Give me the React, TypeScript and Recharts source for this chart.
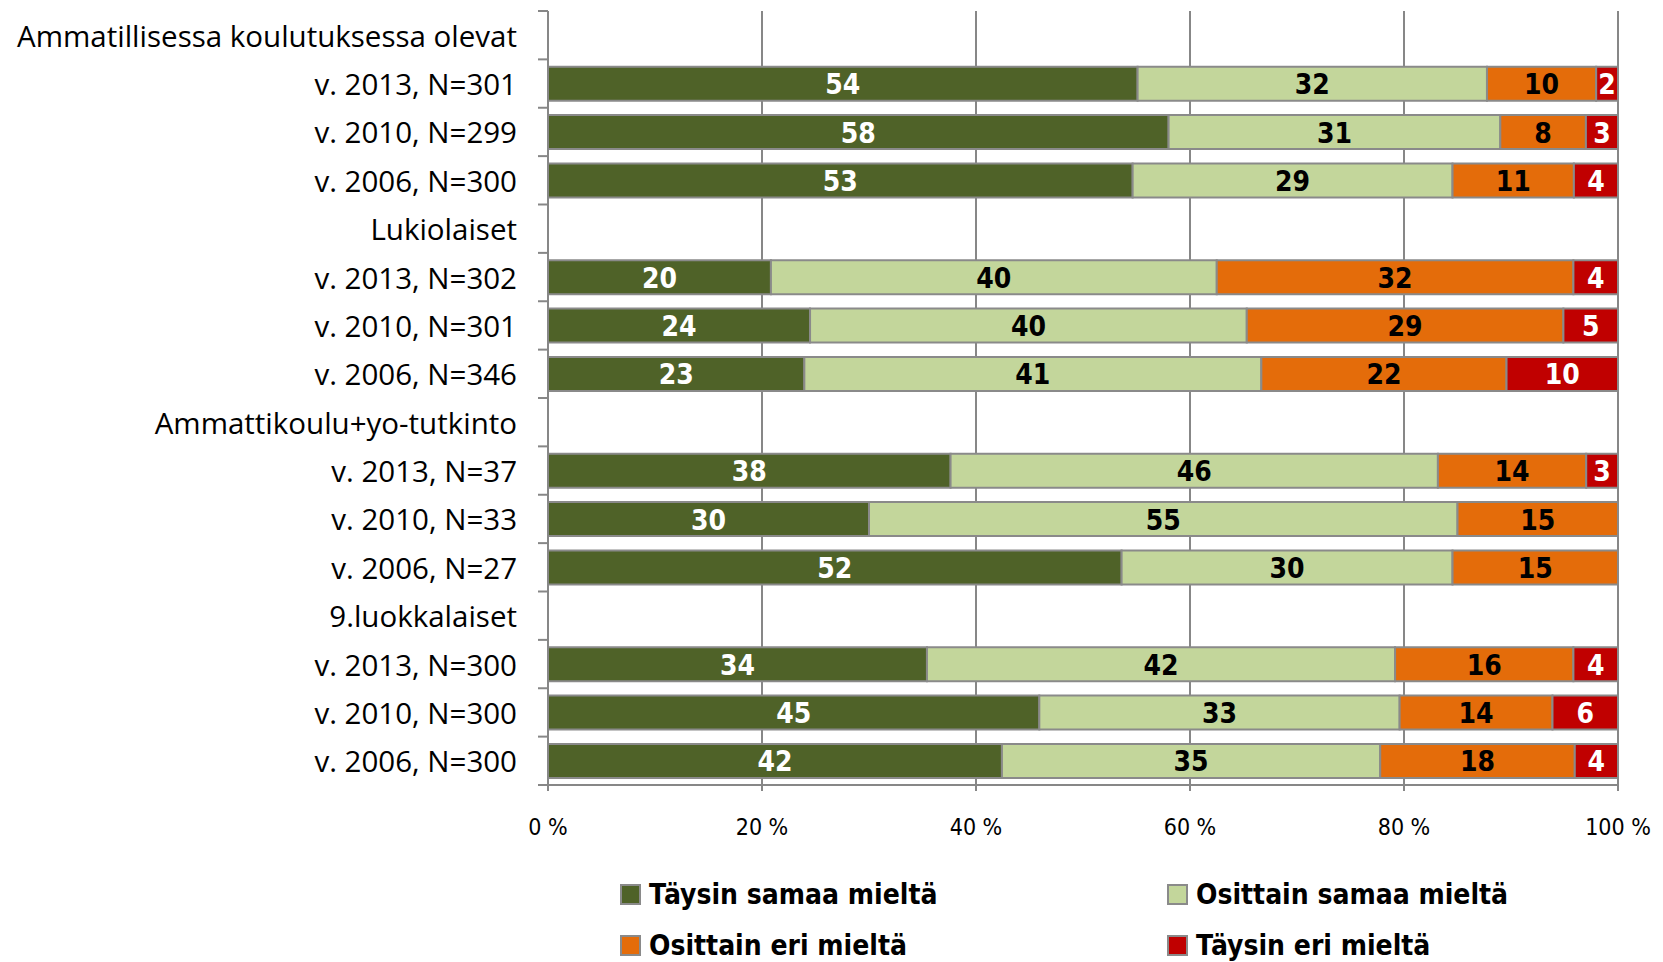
import { BarChart, Bar, XAxis, YAxis, CartesianGrid, Legend, LabelList } from 'recharts'

const categories = [
  'Ammatillisessa koulutuksessa olevat',
  'v. 2013, N=301',
  'v. 2010, N=299',
  'v. 2006, N=300',
  'Lukiolaiset',
  'v. 2013, N=302',
  'v. 2010, N=301',
  'v. 2006, N=346',
  'Ammattikoulu+yo-tutkinto',
  'v. 2013, N=37',
  'v. 2010, N=33',
  'v. 2006, N=27',
  '9.luokkalaiset',
  'v. 2013, N=300',
  'v. 2010, N=300',
  'v. 2006, N=300'
]

// header rows have no values
const taysinSamaa   = [0, 54, 58, 53, 0, 20, 24, 23, 0, 38, 30, 52, 0, 34, 45, 42]
const osittainSamaa = [0, 32, 31, 29, 0, 40, 40, 41, 0, 46, 55, 30, 0, 42, 33, 35]
const osittainEri   = [0, 10, 8, 11, 0, 32, 29, 22, 0, 14, 15, 15, 0, 16, 14, 18]
const taysinEri     = [0, 2, 3, 4, 0, 4, 5, 10, 0, 3, 0, 0, 0, 4, 6, 4]

const xTicks = [0, 0.2, 0.4, 0.6, 0.8, 1]

const series = [
  { key: 'a', name: 'Täysin samaa mieltä',   values: taysinSamaa,   color: '#4f6228', text: '#ffffff' },
  { key: 'b', name: 'Osittain samaa mieltä', values: osittainSamaa, color: '#c3d69b', text: '#000000' },
  { key: 'c', name: 'Osittain eri mieltä',   values: osittainEri,   color: '#e46c0a', text: '#000000' },
  { key: 'd', name: 'Täysin eri mieltä',     values: taysinEri,     color: '#c00000', text: '#ffffff' }
]

const data = categories.map((name, i) => ({
  name,
  a: taysinSamaa[i],
  b: osittainSamaa[i],
  c: osittainEri[i],
  d: taysinEri[i]
}))

const W = 1663
const H = 962
const TOP = 11
const LEGEND_H = 100
const X_AXIS_H = 77
const Y_AXIS_W = 548
const BAND = (H - LEGEND_H - X_AXIS_H - TOP) / categories.length

const labelFont = "'Open Sans', 'Noto Sans', sans-serif"
const narrowFont = "'Liberation Sans Narrow', 'DejaVu Sans Condensed', 'Open Sans', sans-serif"
const gridColor = '#878787'

function CategoryTick(props: any) {
  const { x, y, payload, index } = props
  const last = index === categories.length - 1
  return (
    <g>
      <text x={x - 23} y={y} textAnchor="end" dominantBaseline="central"
        fontFamily={labelFont} fontSize={29.5} fill="#000">{payload.value}</text>
      <line x1={x - 2} x2={x + 8} y1={y - BAND / 2} y2={y - BAND / 2} stroke={gridColor} strokeWidth={2} />
      {last && <line x1={x - 2} x2={x + 8} y1={y + BAND / 2} y2={y + BAND / 2} stroke={gridColor} strokeWidth={2} />}
    </g>
  )
}

function makeLabel(values: number[], color: string) {
  return (p: any) => {
    // row from the bar's position in the band scale
    const row = Math.floor((p.y + p.height / 2 - TOP) / BAND)
    const v = values[row]
    if (!v) return null
    return (
      <text x={p.x + p.width / 2} y={p.y + p.height / 2 + 1} textAnchor="middle" dominantBaseline="central"
        fontFamily={narrowFont} fontWeight="bold" fontSize={28} fill={color}>{v}</text>
    )
  }
}

function LegendBox() {
  const cols = [620, 1167]
  return (
    <div style={{ position: 'relative', width: W, height: LEGEND_H }}>
      {series.map((s, i) => (
        <div key={s.key} style={{
          position: 'absolute',
          left: cols[i % 2],
          top: i < 2 ? 20 : 71,
          height: 24,
          display: 'flex',
          alignItems: 'center',
          gap: 8,
          fontFamily: narrowFont,
          fontWeight: 'bold',
          fontSize: 28,
          color: '#000',
          whiteSpace: 'nowrap'
        }}>
          <span style={{ width: 17, height: 17, background: s.color, border: '2px solid #8a8a8a', display: 'inline-block' }} />
          <span>{s.name}</span>
        </div>
      ))}
    </div>
  )
}

export default function App() {
  return (
    <div style={{ position: 'fixed', left: 0, top: 0, width: W, height: H, background: '#fff' }}>
      <BarChart
        width={W}
        height={H}
        data={data}
        layout="vertical"
        stackOffset="expand"
        barCategoryGap="15%"
        margin={{ top: TOP, right: 45, left: 0, bottom: 0 }}
      >
        <CartesianGrid horizontal={false} stroke={gridColor} strokeWidth={2} />
        <XAxis
          type="number"
          domain={[0, 1]}
          ticks={xTicks}
          height={X_AXIS_H}
          tickFormatter={(v) => `${Math.round(v * 100)} %`}
          tick={{ fontSize: 23, fill: '#000', fontFamily: narrowFont }}
          axisLine={{ stroke: gridColor, strokeWidth: 2 }}
          tickLine={{ stroke: gridColor, strokeWidth: 2 }}
          tickSize={6}
          tickMargin={28}
        />
        <XAxis
          xAxisId="top"
          orientation="top"
          type="number"
          domain={[0, 1]}
          height={0}
          tick={false}
          tickLine={false}
          axisLine={{ stroke: gridColor, strokeWidth: 2 }}
        />
        <YAxis
          type="category"
          dataKey="name"
          width={Y_AXIS_W}
          interval={0}
          tickLine={false}
          axisLine={{ stroke: gridColor, strokeWidth: 2 }}
          tick={<CategoryTick />}
        />
        <Legend verticalAlign="bottom" content={() => <LegendBox />} wrapperStyle={{ left: 0, width: W, height: LEGEND_H }} />
        {series.map((s) => (
          <Bar key={s.key} dataKey={s.key} name={s.name} stackId="s" fill={s.color}
            stroke="#8a8a8a" strokeWidth={2} isAnimationActive={false}>
            <LabelList dataKey={s.key} content={makeLabel(s.values, s.text)} />
          </Bar>
        ))}
      </BarChart>
    </div>
  )
}
